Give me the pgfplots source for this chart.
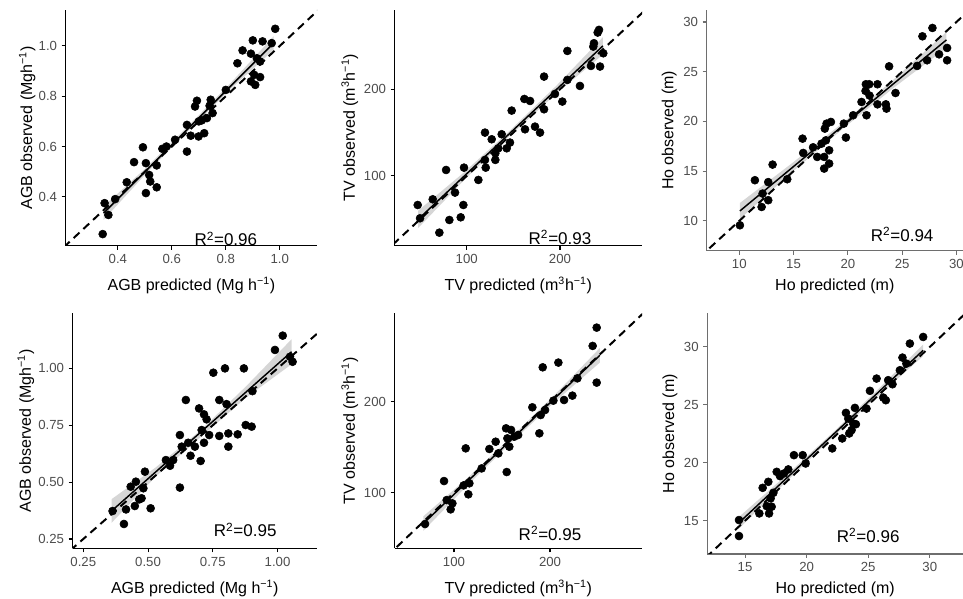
\documentclass[border=0pt]{standalone}
\usepackage{fontspec}
\setmainfont{Liberation Sans}
\usepackage{pgfplots}
\pgfplotsset{compat=1.18}
\definecolor{gthirty}{HTML}{4D4D4D}
\definecolor{gsixty}{HTML}{999999}
\definecolor{axgray}{HTML}{6E6E6E}
\pgfplotsset{
  panel/.style={
    scale only axis,
    axis lines=left,
    axis line style={-, black, line width=0.9pt},
    tick align=outside,
    major tick length=3pt,
    tick style={black, line width=0.8pt},
    tick label style={font=\fontsize{9.9}{11}\selectfont, text=gthirty},
    label style={font=\fontsize{12}{14}\selectfont, text=black},
    /pgf/number format/assume math mode=true,
    clip=true,
  },
  grayaxis/.style={axis line style={-, axgray, line width=0.9pt}, tick style={axgray, line width=0.8pt}},
  pts/.style={only marks, mark=*, mark size=3pt, mark options={fill=black, draw=black}},
  band/.style={fill=gsixty, fill opacity=0.4, draw=none, forget plot},
  fit/.style={black, line width=1.1pt, no marks},
  diag/.style={black, line width=1.5pt, dash pattern=on 6pt off 4pt, no marks},
}
\newcommand{\rsq}[1]{\fontsize{12.75}{14}\selectfont R\textsuperscript{2}=#1}
\begin{document}
\begin{tikzpicture}
\useasboundingbox (0,0) rectangle (722.25pt,449.25pt);

% Panel 1
\begin{axis}[panel, at={(49.3pt,265pt)}, anchor=south west, width=188.5pt, height=176.8pt,
  xmin=0.207, xmax=1.138, ymin=0.206, ymax=1.143,
  xtick={0.4,0.6,0.8,1.0}, xticklabels={0.4,0.6,0.8,1.0},
  ytick={0.4,0.6,0.8,1.0}, yticklabels={0.4,0.6,0.8,1.0},
  xlabel shift=3pt, ylabel shift=-4.5pt,
  xlabel={AGB predicted (Mg h\textsuperscript{−1})},
  ylabel={AGB observed (Mgh\textsuperscript{−1})}]
\addplot[pts] coordinates {(0.344,0.252)(0.351,0.375)(0.365,0.328)(0.390,0.391)(0.433,0.458)(0.460,0.538)(0.493,0.597)(0.504,0.534)(0.504,0.415)(0.516,0.487)(0.520,0.461)(0.544,0.525)(0.544,0.438)(0.565,0.591)(0.612,0.627)(0.656,0.580)(0.656,0.686)(0.670,0.643)(0.686,0.759)(0.693,0.782)(0.699,0.640)(0.711,0.704)(0.720,0.653)(0.730,0.713)(0.744,0.786)(0.751,0.733)(0.740,0.762)(0.800,0.825)(0.843,0.931)(0.862,0.982)(0.893,0.969)(0.900,1.022)(0.893,0.859)(0.909,0.845)(0.905,0.885)(0.927,0.876)(0.936,1.018)(0.927,0.938)(0.970,1.011)(0.983,1.068)(0.915,0.951)(0.700,0.700)(0.580,0.600)};
\addplot[band] coordinates {(0.347,0.362)(0.5,0.511)(0.66,0.681)(0.82,0.855)(0.977,1.038)(0.977,0.984)(0.82,0.831)(0.66,0.661)(0.5,0.487)(0.347,0.308)} -- cycle;
\addplot[fit] coordinates {(0.347,0.335)(0.977,1.011)};
\addplot[diag] coordinates {(0.2,0.2)(1.2,1.2)};
\node at (axis cs:0.8,0.233) {\rsq{0.96}};
\end{axis}

% Panel 2
\begin{axis}[panel, at={(296pt,265pt)}, anchor=south west, width=185.5pt, height=176.8pt,
  xmin=22.8, xmax=287.9, ymin=19.6, ymax=291.5,
  xtick={100,200}, ytick={100,200},
  xlabel shift=3pt, ylabel shift=-2.5pt,
  xlabel={TV predicted (m\textsuperscript{3}h\textsuperscript{−1})},
  ylabel={TV observed (m\textsuperscript{3}h\textsuperscript{−1})}]
\addplot[pts] coordinates {(47.5,66.5)(50,51.2)(63.6,73.1)(70.7,34.6)(77.9,106.9)(81.4,49.2)(87.5,80.8)(93.6,52.3)(96.4,66.5)(97.1,109.6)(112.5,95.4)(119.6,150)(119.6,118.5)(120.4,109.6)(126.8,142.3)(130.7,118.5)(130.7,126.2)(133.9,131.9)(137.5,148.1)(142.9,131.9)(146.4,138.5)(148.2,175.4)(161.8,188.8)(162.5,153.8)(167.9,186.5)(173.2,156.9)(178.6,150)(182.9,176.9)(182.9,214.6)(194.6,194.6)(202.5,185.8)(207.9,244.2)(207.9,210.8)(221.4,203.8)(233.2,226.9)(236.4,253.1)(235.7,249.2)(242.9,226.2)(240.4,265.4)(241.8,268.5)(246.4,241.5)};
\addplot[band] coordinates {(48,60)(97,104)(147,153)(196,204)(246,260)(246,240)(196,195)(147,147)(97,95)(48,40)} -- cycle;
\addplot[fit] coordinates {(48,50)(246,250)};
\addplot[diag] coordinates {(0,0)(300,300)};
\node at (axis cs:200,29) {\rsq{0.93}};
\end{axis}

% Panel 3
\begin{axis}[panel, grayaxis, at={(530pt,261.2pt)}, anchor=south west, width=192.2pt, height=180.5pt,
  xmin=7.0, xmax=30.6, ymin=7.0, ymax=31.2,
  xtick={10,15,20,25,30}, ytick={10,15,20,25,30},
  xlabel shift=0.7pt, ylabel shift=-2pt,
  xlabel={Ho predicted (m)},
  ylabel={Ho observed (m)}]
\addplot[pts] coordinates {(10.06,9.56)(11.44,14.09)(12.06,11.4)(12.15,12.75)(12.67,13.9)(12.67,12.08)(13.07,15.66)(14.42,14.19)(15.83,18.27)(15.89,16.83)(16.8,17.4)(17.18,16.43)(17.58,17.77)(17.82,15.26)(17.82,16.43)(17.88,19.28)(17.98,18.1)(18.04,19.78)(18.28,15.76)(18.28,17.1)(18.44,19.95)(19.63,19.78)(19.82,18.38)(20.49,20.62)(21.26,21.96)(21.63,23.07)(21.66,23.74)(21.72,20.62)(21.97,23.74)(22.0,22.6)(22.73,23.74)(22.73,21.72)(23.5,21.72)(23.56,21.29)(23.8,25.54)(24.39,22.86)(26.38,25.58)(26.87,28.56)(27.3,26.15)(27.79,29.4)(28.4,26.75)(29.14,27.39)(29.14,26.15)};
\addplot[band] coordinates {(10.06,11.8)(14.8,15.75)(19.6,19.92)(24.3,24.3)(29.08,29.0)(29.08,27.4)(24.3,23.45)(19.6,19.32)(14.8,14.83)(10.06,10.2)} -- cycle;
\addplot[fit] coordinates {(10.06,11.0)(29.08,28.2)};
\addplot[diag] coordinates {(0,0)(40,40)};
\node at (axis cs:25,8.6) {\rsq{0.94}};
\end{axis}

% Panel 4
\begin{axis}[panel, at={(54.5pt,38pt)}, anchor=south west, width=183.2pt, height=176.25pt,
  xmin=0.209, xmax=1.152, ymin=0.209, ymax=1.242,
  xtick={0.25,0.5,0.75,1.0}, xticklabels={0.25,0.50,0.75,1.00},
  ytick={0.25,0.5,0.75,1.0}, yticklabels={0.25,0.50,0.75,1.00},
  xlabel shift=3.5pt, ylabel shift=-3.75pt,
  xlabel={AGB predicted (Mg h\textsuperscript{−1})},
  ylabel={AGB observed (Mgh\textsuperscript{−1})}]
\addplot[pts] coordinates {(0.363,0.373)(0.407,0.316)(0.415,0.380)(0.433,0.480)(0.449,0.395)(0.453,0.502)(0.466,0.424)(0.475,0.429)(0.482,0.473)(0.488,0.546)(0.510,0.385)(0.569,0.597)(0.585,0.572)(0.597,0.597)(0.623,0.476)(0.623,0.707)(0.630,0.656)(0.646,0.861)(0.655,0.673)(0.664,0.616)(0.681,0.656)(0.697,0.824)(0.703,0.593)(0.707,0.729)(0.716,0.798)(0.716,0.673)(0.726,0.776)(0.736,0.707)(0.752,0.981)(0.775,0.861)(0.775,0.703)(0.797,1.000)(0.810,0.714)(0.810,0.656)(0.803,0.843)(0.846,0.710)(0.870,1.000)(0.877,0.751)(0.900,0.744)(0.903,0.900)(0.990,1.081)(1.020,1.144)(1.048,1.051)(1.058,1.029)};
\addplot[band] coordinates {(0.359,0.425)(0.53,0.565)(0.706,0.731)(0.88,0.923)(1.054,1.128)(1.054,1.018)(0.88,0.873)(0.706,0.701)(0.53,0.525)(0.359,0.321)} -- cycle;
\addplot[fit] coordinates {(0.359,0.373)(1.054,1.073)};
\addplot[diag] coordinates {(0.2,0.2)(1.3,1.3)};
\node at (axis cs:0.875,0.29) {\rsq{0.95}};
\end{axis}

% Panel 5
\begin{axis}[panel, at={(296pt,38pt)}, anchor=south west, width=185.5pt, height=176.25pt,
  xmin=38.2, xmax=295.8, ymin=38.9, ymax=297,
  xtick={100,200}, ytick={100,200},
  xlabel shift=3.5pt, ylabel shift=-2.5pt,
  xlabel={TV predicted (m\textsuperscript{3}h\textsuperscript{−1})},
  ylabel={TV observed (m\textsuperscript{3}h\textsuperscript{−1})}]
\addplot[pts] coordinates {(69.8,65.6)(89.6,112.8)(92.4,91.9)(96.5,81.7)(98.3,88.3)(112.2,148.7)(114.9,98.2)(116,110.3)(110,108)(128.8,126.7)(136.8,148)(143.4,156)(146.2,143.2)(154.2,170.7)(154.9,122.7)(155.6,159.7)(157.6,150.5)(159.4,168.9)(162.8,161.5)(166.8,163.4)(181.6,193.8)(188.9,165.2)(190.3,185.3)(192.4,237.7)(194.8,190.8)(203.5,201.1)(208.7,242.9)(214.6,201.8)(223.3,206.6)(228.5,225.6)(244.4,261.2)(248.6,220.9)(248.6,281.3)};
\addplot[band] coordinates {(68,74)(114,116.2)(160,161.5)(206,208.7)(252,259)(252,243)(206,200.7)(160,155.5)(114,108.2)(68,58)} -- cycle;
\addplot[fit] coordinates {(68,66)(252,251)};
\addplot[diag] coordinates {(0,0)(320,320)};
\node at (axis cs:200,55) {\rsq{0.95}};
\end{axis}

% Panel 6
\begin{axis}[panel, grayaxis, at={(530.5pt,33.75pt)}, anchor=south west, width=191.8pt, height=180.5pt,
  xmin=11.94, xmax=32.7, ymin=12.13, ymax=32.9,
  xtick={15,20,25,30}, ytick={15,20,25,30},
  xlabel shift=0.5pt, ylabel shift=-2pt,
  xlabel={Ho predicted (m)},
  ylabel={Ho observed (m)}]
\addplot[pts] coordinates {(14.51,15.06)(14.51,13.68)(16.16,15.63)(16.43,17.84)(16.76,16.26)(16.89,18.36)(16.95,15.63)(17.08,16.93)(17.16,16.21)(17.3,17.41)(17.57,19.22)(17.84,18.85)(18.16,19.08)(18.51,19.43)(18.97,20.66)(19.68,20.66)(19.92,19.94)(22.08,21.24)(22.89,22.1)(23.19,24.31)(23.38,23.82)(23.46,22.53)(23.65,22.82)(23.78,23.39)(23.92,24.74)(24.0,23.33)(24.86,24.68)(25.14,26.21)(25.68,27.27)(26.22,25.63)(26.43,25.4)(26.62,27.13)(26.97,26.78)(27.57,27.99)(27.78,29.08)(28.1,28.56)(28.38,30.29)(29.46,30.86)};
\addplot[band] coordinates {(14.59,15.41)(18.3,18.88)(22.0,22.48)(25.7,26.24)(29.46,30.21)(29.46,29.21)(25.7,25.68)(22.0,22.08)(18.3,18.32)(14.59,14.41)} -- cycle;
\addplot[fit] coordinates {(14.59,14.91)(29.46,29.71)};
\addplot[diag] coordinates {(0,0)(40,40)};
\node at (axis cs:25,13.7) {\rsq{0.96}};
\end{axis}
\end{tikzpicture}
\end{document}
